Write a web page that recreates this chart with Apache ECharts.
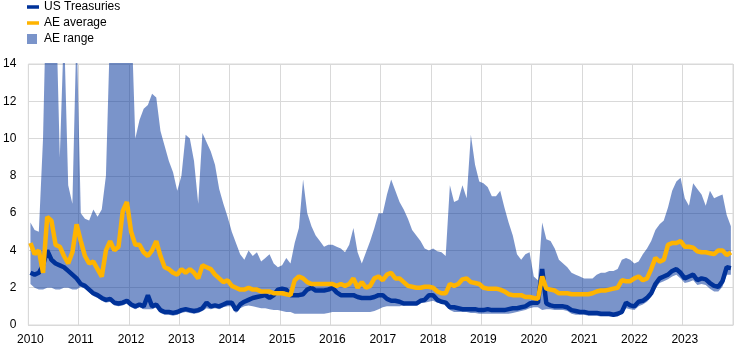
<!DOCTYPE html>
<html>
<head>
<meta charset="utf-8">
<script src="https://cdn.jsdelivr.net/npm/echarts@6/dist/echarts.min.js"></script>
<style>
  html, body { margin: 0; padding: 0; background: #fff; }
  #chart { width: 744px; height: 351px; }
</style>
</head>
<body>
<div id="chart"></div>
<script>
// years on the x axis, one category per month
const years = [2010, 2011, 2012, 2013, 2014, 2015, 2016, 2017, 2018, 2019, 2020, 2021, 2022, 2023]
const months = []
years.forEach(y => {
  for (let m = 1; m <= 12; m++) months.push(y + '-' + (m < 10 ? '0' + m : m))
})

// monthly readings, one row per year (Jan..Dec)
const usTreasuries = [
  2.8, 2.7, 2.8, 3.2, 4.0, 3.5, 3.3, 3.2, 3.1, 2.9, 2.7, 2.5,
  2.2, 2.1, 1.9, 1.7, 1.6, 1.45, 1.35, 1.4, 1.2, 1.15, 1.2, 1.3,
  1.1, 1.0, 1.1, 1.0, 1.6, 1.0, 1.1, 0.8, 0.7, 0.7, 0.65, 0.7,
  0.8, 0.85, 0.8, 0.75, 0.8, 0.9, 1.2, 1.0, 1.05, 1.0, 1.1, 1.2,
  1.2, 0.8, 1.1, 1.25, 1.35, 1.45, 1.5, 1.55, 1.6, 1.45, 1.6, 1.9,
  1.95, 1.9, 1.6, 1.6, 1.6, 1.65, 1.9, 2.0, 1.85, 1.85, 1.85, 1.9,
  2.0, 1.75, 1.6, 1.6, 1.6, 1.6, 1.5, 1.45, 1.45, 1.45, 1.5, 1.6,
  1.6, 1.4, 1.3, 1.3, 1.25, 1.15, 1.15, 1.15, 1.15, 1.3, 1.35, 1.6,
  1.6, 1.35, 1.25, 1.2, 0.95, 0.95, 0.9, 0.85, 0.85, 0.85, 0.85, 0.8,
  0.8, 0.85, 0.8, 0.8, 0.8, 0.8, 0.85, 0.9, 0.9, 0.95, 1.0, 1.15,
  1.2, 1.2, 3.0, 1.15, 1.05, 1.0, 1.0, 1.0, 0.95, 0.8, 0.75, 0.7,
  0.7, 0.65, 0.65, 0.65, 0.6, 0.6, 0.6, 0.55, 0.6, 0.7, 1.2, 1.05,
  1.0, 1.25, 1.3, 1.45, 1.7, 2.2, 2.5, 2.6, 2.7, 2.9, 3.0, 2.8,
  2.5, 2.6, 2.7, 2.4, 2.5, 2.45, 2.25, 2.1, 2.05, 2.35, 3.1, 3.05
]
const aeAverage = [
  4.4, 3.8, 4.0, 2.8, 5.8, 5.6, 4.3, 4.2, 3.7, 3.3, 3.9, 5.4,
  4.5, 3.7, 3.3, 3.4, 3.0, 2.6, 4.0, 4.5, 4.0, 4.2, 6.1, 6.6,
  5.0, 4.3, 4.3, 3.9, 3.7, 4.0, 4.5, 3.7, 3.1, 3.0, 2.8, 2.7,
  3.0, 2.8, 3.0, 2.8, 2.5, 3.2, 3.1, 3.0, 2.7, 2.5, 2.3, 2.4,
  2.1, 2.0, 1.9, 1.9, 2.0, 1.9, 1.9, 1.8, 1.8, 1.8, 1.7, 1.7,
  1.7, 1.65, 1.6, 2.4, 2.6, 2.5, 2.3, 2.2, 2.2, 2.2, 2.2, 2.2,
  2.2, 2.1, 2.2, 2.1, 2.2, 2.5, 2.0, 2.3, 2.0, 2.1, 2.5, 2.6,
  2.4, 2.7, 2.8, 2.5, 2.5, 2.3, 2.1, 2.05, 2.0, 2.0, 2.05, 2.05,
  2.0, 1.8, 1.7, 1.7, 2.2, 2.1, 2.2, 2.45, 2.5, 2.3, 2.25, 2.2,
  2.0, 1.95, 1.95, 1.95, 1.9, 1.8, 1.65, 1.6, 1.6, 1.6, 1.5, 1.5,
  1.45, 1.4, 2.6, 1.95, 1.9, 1.85, 1.7, 1.7, 1.7, 1.65, 1.65, 1.65,
  1.65, 1.65, 1.7, 1.8, 1.85, 1.85, 1.9, 1.95, 2.0, 2.4, 2.35, 2.35,
  2.5, 2.6, 2.4, 2.5, 3.0, 3.6, 3.4, 3.5, 4.3, 4.4, 4.4, 4.5,
  4.2, 4.2, 4.15, 3.95, 3.9, 3.9, 3.85, 3.8, 4.0, 4.0, 3.75, 3.9
]
const aeRangeLow = [
  2.2, 2.0, 1.9, 1.9, 2.0, 2.0, 1.9, 1.9, 2.0, 2.0, 1.9, 1.9,
  2.05, 1.95, 1.75, 1.55, 1.45, 1.3, 1.2, 1.25, 1.05, 1.0, 1.05, 1.15,
  0.95, 0.85, 0.95, 0.85, 0.85, 0.85, 0.95, 0.65, 0.55, 0.55, 0.5, 0.55,
  0.65, 0.7, 0.65, 0.6, 0.65, 0.75, 0.9, 0.85, 0.9, 0.85, 0.95, 1.0,
  1.0, 0.65, 0.9, 1.0, 1.05, 1.0, 0.95, 0.9, 0.9, 0.85, 0.8, 0.8,
  0.75, 0.7, 0.7, 0.6, 0.6, 0.6, 0.6, 0.6, 0.6, 0.6, 0.6, 0.65,
  0.7, 0.7, 0.7, 0.7, 0.7, 0.7, 0.7, 0.7, 0.7, 0.7, 0.75, 0.85,
  0.95, 1.0, 1.0, 1.0, 1.0, 1.05, 1.1, 1.1, 1.15, 1.2, 1.2, 1.25,
  1.3, 1.2, 1.15, 1.1, 0.8, 0.7, 0.7, 0.7, 0.7, 0.65, 0.65, 0.6,
  0.6, 0.6, 0.6, 0.6, 0.6, 0.6, 0.6, 0.65, 0.7, 0.75, 0.8, 0.9,
  0.95, 0.95, 0.8, 0.85, 0.85, 0.8, 0.8, 0.8, 0.75, 0.6, 0.55, 0.55,
  0.55, 0.5, 0.5, 0.5, 0.45, 0.45, 0.45, 0.45, 0.45, 0.6, 0.9, 0.85,
  0.8, 1.0, 1.1, 1.25, 1.5, 1.95, 2.25, 2.35, 2.45, 2.6, 2.7, 2.5,
  2.25, 2.3, 2.4, 2.15, 2.2, 2.15, 1.95, 1.8, 1.8, 2.05, 2.7, 2.7
]
// values above 14 run off the top of the chart
const aeRangeHigh = [
  5.5, 5.1, 5.0, 10.0, 20, 20, 18, 9.0, 16, 7.5, 6.5, 16,
  6.0, 5.7, 5.6, 6.2, 5.8, 6.2, 8.0, 16, 20, 20, 20, 20,
  17, 10.0, 11.0, 11.6, 11.8, 12.4, 12.2, 10.4, 9.6, 8.8, 8.2, 7.2,
  8.0, 10.2, 10.0, 8.8, 6.5, 10.3, 9.8, 9.3, 8.6, 7.3, 6.5, 5.8,
  5.0, 4.4, 3.8, 3.5, 4.0, 3.7, 3.9, 3.4, 3.6, 3.8, 3.3, 3.1,
  3.2, 3.6, 3.3, 4.4, 5.2, 7.8, 6.0, 5.3, 4.8, 4.5, 4.2, 4.3,
  4.3, 4.2, 4.1, 3.9, 4.3, 5.2, 3.9, 3.3, 3.9, 4.5, 5.2, 6.0,
  6.0, 7.0, 7.8, 7.2, 6.6, 6.2, 5.7, 5.1, 4.8, 4.5, 4.1, 4.0,
  4.1, 3.95, 3.9, 3.7, 7.5, 6.6, 6.7, 7.5, 6.8, 10.2, 8.6, 7.7,
  7.6, 7.4, 6.9, 6.9, 7.2, 6.3, 5.5, 4.8, 3.8, 3.5, 3.8, 3.9,
  2.6, 2.4, 5.5, 4.6, 4.5, 4.1, 3.5, 3.3, 3.1, 2.8, 2.7, 2.6,
  2.5, 2.5, 2.5, 2.7, 2.8, 2.8, 2.9, 2.9, 3.0, 3.5, 3.6, 3.5,
  3.3, 3.4, 3.8, 4.1, 4.5, 5.1, 5.4, 5.6, 6.3, 7.2, 7.7, 7.9,
  6.8, 6.4, 7.6, 7.3, 7.0, 6.4, 7.2, 6.8, 6.9, 7.0, 5.9, 5.3
]
const yTicks = [0, 2, 4, 6, 8, 10, 12, 14]

const darkBlue = '#003299'
const orange = '#ffb400'
const bandColor = 'rgba(0, 50, 153, 0.52)'
const gridGrey = '#d9d9d9'
const font = 'Liberation Sans, Arial, sans-serif'

// legend icons: thin bar for the lines, square for the band (tiny corners keep the box size)
const lineIcon = 'path://M0,0h0.01v0.01h-0.01zM0,3.25h12v3.5h-12zM11.99,9.99h0.01v0.01h-0.01z'
const boxIcon = 'path://M0,0h10v10h-10zM11.99,9.99h0.01v0.01h-0.01z'

const chart = echarts.init(document.getElementById('chart'))
const option = {
  animation: false,
  textStyle: { fontFamily: font },
  legend: {
    orient: 'vertical',
    left: 27,
    top: 1,
    padding: 0,
    itemWidth: 12,
    itemHeight: 10,
    itemGap: 4,
    textStyle: { fontSize: 12, color: '#000', fontFamily: font, lineHeight: 12 },
    data: [
      { name: 'US Treasuries', icon: lineIcon, itemStyle: { color: darkBlue } },
      { name: 'AE average', icon: lineIcon, itemStyle: { color: orange } },
      { name: 'AE range', icon: boxIcon, itemStyle: { color: bandColor } }
    ]
  },
  grid: {
    left: 28,
    right: 11,
    top: 64,
    bottom: 26,
    show: true,
    borderColor: gridGrey,
    borderWidth: 1
  },
  xAxis: {
    type: 'category',
    data: months,
    boundaryGap: true,
    axisLine: { show: true, lineStyle: { color: gridGrey } },
    axisTick: { show: false },
    axisLabel: {
      interval: (i) => i % 12 === 0,
      formatter: (v) => v.slice(0, 4),
      color: '#000',
      fontSize: 12,
      margin: 9
    },
    splitLine: {
      show: true,
      interval: (i) => i % 12 === 0,
      lineStyle: { color: gridGrey, width: 1 }
    }
  },
  yAxis: {
    type: 'value',
    min: yTicks[0],
    max: yTicks[yTicks.length - 1],
    interval: 2,
    axisLine: { show: false },
    axisTick: { show: false },
    axisLabel: { color: '#000', fontSize: 12, margin: 12 },
    splitLine: { lineStyle: { color: gridGrey, width: 1 } }
  },
  series: [
    {
      name: 'range low',
      type: 'line',
      stack: 'range',
      data: aeRangeLow,
      symbol: 'none',
      silent: true,
      lineStyle: { opacity: 0 }
    },
    {
      name: 'AE range',
      type: 'line',
      stack: 'range',
      data: aeRangeHigh.map((v, i) => +(v - aeRangeLow[i]).toFixed(2)),
      symbol: 'none',
      lineStyle: { opacity: 0 },
      areaStyle: { color: bandColor, opacity: 1 }
    },
    {
      name: 'US Treasuries',
      type: 'line',
      data: usTreasuries,
      symbol: 'none',
      lineStyle: { color: darkBlue, width: 4.5 },
      itemStyle: { color: darkBlue }
    },
    {
      name: 'AE average',
      type: 'line',
      data: aeAverage,
      symbol: 'none',
      lineStyle: { color: orange, width: 4.5 },
      itemStyle: { color: orange }
    }
  ]
}
chart.setOption(option)
</script>
</body>
</html>
